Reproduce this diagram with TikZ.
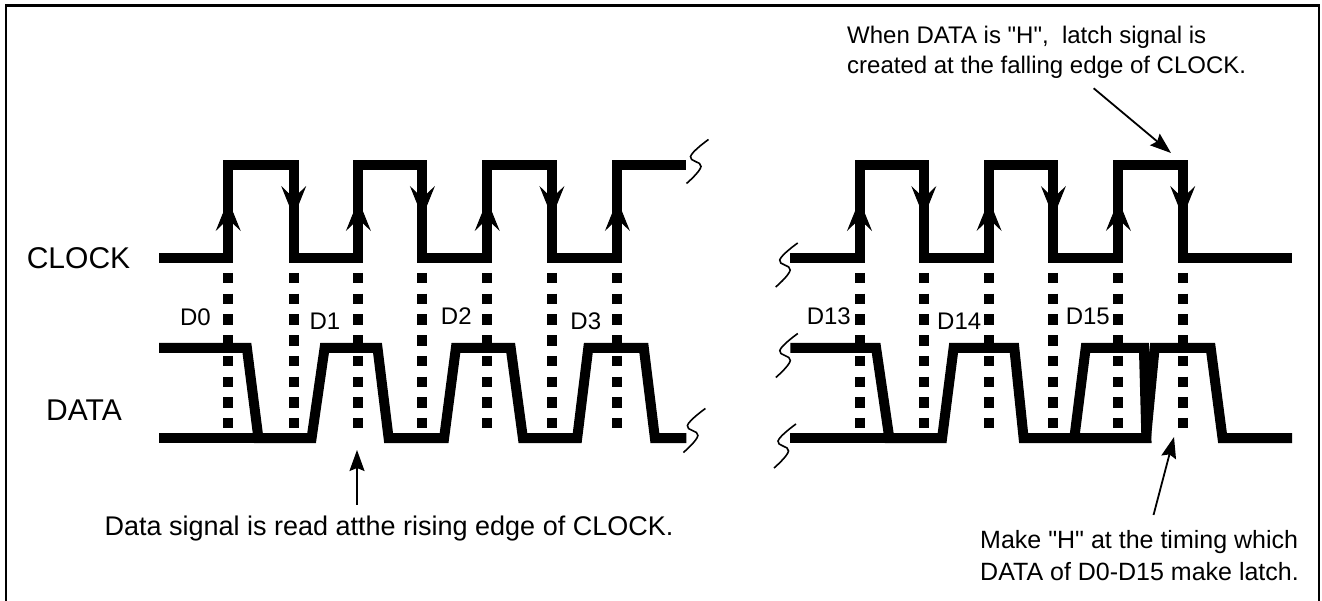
\documentclass[tikz,border=0pt]{standalone}
\usepackage{fontspec}
\setmainfont{Liberation Sans}[Ligatures=TeXOff]
\usetikzlibrary{arrows.meta}

\tikzset{brk/.pic={\draw[line width=1.6pt] plot[smooth, tension=0.7] coordinates {(11,-22) (-7,-5) (3.5,5) (-11,22)};}}

\begin{document}
\begin{tikzpicture}[x=1pt, y=-1pt,
    wave/.style={line width=10pt, line join=miter},
    dots/.style={line width=10pt, dash pattern=on 10.5pt off 10.2pt},
    edgetip/.style={line width=1pt, -{Stealth[length=31pt,width=25pt,inset=12pt]}},
    lbl/.style={font=\fontsize{24}{28}\selectfont, inner sep=0pt, anchor=east},
    signame/.style={font=\fontsize{30}{36}\selectfont, inner sep=0pt},
    note/.style={align=left, inner sep=0pt},
    notearrow/.style={line width=1.8pt, -{Stealth[length=21pt,width=15pt,inset=3pt]}}]
\useasboundingbox (0,0) rectangle (1322,601);
% frame, open at the bottom
\draw[line width=2.5pt] (6,601) -- (6,5.5) -- (1319,5.5) -- (1319,601);

% signal names
\node[signame] (clk) at (78.5,258.5) {CLOCK};
\node[signame] (dat) at (84,410) {DATA};

% dotted lines at every clock edge
\foreach \x in {228.2,293.7,358.4,422.4,487.2,551.9,617.4,859.5,923.8,989.1,1053.4,1118.4,1182.7}
    \draw[dots] (\x,273) -- (\x,429);

% clock, first part and last part
\draw[wave] (159,258) -- (228.2,258) -- (228.2,165) -- (293.7,165) -- (293.7,258)
    -- (358.4,258) -- (358.4,165) -- (422.4,165) -- (422.4,258) -- (487.2,258) -- (487.2,165)
    -- (551.9,165) -- (551.9,258) -- (617.4,258) -- (617.4,165) -- (686.4,165);
\draw[wave] (790.4,258) -- (859.5,258) -- (859.5,165) -- (923.8,165) -- (923.8,258)
    -- (989.1,258) -- (989.1,165) -- (1053.4,165) -- (1053.4,258) -- (1118.4,258)
    -- (1118.4,165) -- (1182.7,165) -- (1182.7,258) -- (1292.1,258);

% arrow heads on rising and falling edges
\foreach \x in {228.2,358.4,487.2,617.4,859.5,989.1,1118.4}
    \draw[edgetip] (\x,240) -- (\x,200);
\foreach \x in {293.7,422.4,551.9,923.8,1053.4,1182.7}
    \draw[edgetip] (\x,180) -- (\x,217);

% data, first part
\draw[wave] (159,438) -- (261,438);
\draw[wave] (159,348) -- (246.9,348) -- (258.4,438)
    \foreach \a/\b/\c/\d in {311.6/324.6/377.5/388.6,444.1/455.9/510.7/522.9,577.2/588.3/643.8/654.9} {
    -- (\a,438) -- (\b,348) -- (\c,348) -- (\d,438) } -- (686.4,438);
% data, last part with the latch pulse
\draw[wave] (790.4,438) -- (892,438);
\draw[wave] (790.4,348) -- (876.1,348) -- (889.3,438) -- (942.1,438) -- (953.6,348)
    -- (1014.3,348) -- (1023.6,438) -- (1074.3,438) -- (1085.7,348) -- (1143.9,348)
    -- (1146.4,438) -- (1074.3,438);
\draw[wave] (1146,438) -- (1154.6,348) -- (1210.7,348) -- (1222.5,438) -- (1292.1,438);

% break marks
\foreach \x/\y in {697.5/161.5,694.4/430.5,786.7/265,786.8/355.5,785/446}
    \pic at (\x,\y) {brk};

% bit labels
\foreach \t/\x/\y in {D0/211/317,D1/340.5/321,D2/471.8/316,D3/601.3/321,D13/851/316,D14/981.4/321,D15/1110/316}
    \node[lbl] (\t) at (\x,\y) {\t};

% notes
\node[note, anchor=base, font=\fontsize{27}{32}\selectfont] (readnote) at (389,535) {Data signal is read atthe rising edge of CLOCK.};
\coordinate (readpt) at (357,450);
\draw[notearrow] ([yshift=10.5pt]readnote.north -| readpt) -- (readpt);

\node[note, anchor=north west, font=\fontsize{24}{30}\selectfont] (latchnote) at (847,25.5) {When DATA is "H",~ latch signal is\\created at the falling edge of CLOCK.};
\coordinate (fallpt) at (1171,153);
\draw[notearrow] ([xshift=47pt,yshift=-10pt]latchnote.south) -- (fallpt);

\node[note, anchor=north west, font=\fontsize{25}{32}\selectfont] (makenote) at (980,530) {Make "H" at the timing which\\DATA of D0-D15 make latch.};
\coordinate (latchpt) at (1174,437);
\draw[notearrow] ([xshift=14pt,yshift=15pt]makenote.north) -- (latchpt);
\end{tikzpicture}
\end{document}
